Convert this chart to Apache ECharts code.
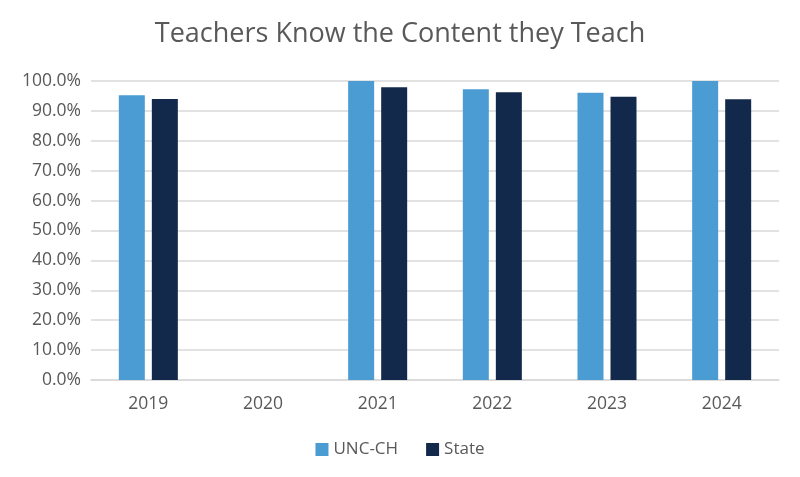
<!DOCTYPE html>
<html>
<head>
    <meta charset="UTF-8">
    <title>Teachers Know the Content they Teach</title>
    <script src="https://cdn.jsdelivr.net/npm/echarts@6.0.0/dist/echarts.min.js"></script>
    <style>
        html, body { margin: 0; padding: 0; background: #fff; }
        #chart { width: 800px; height: 477px; }
    </style>
</head>
<body>
<div id="chart"></div>
<script>
    // data
    const years = ['2019', '2020', '2021', '2022', '2023', '2024'];
    const uncValues = [95.2, null, 100.0, 97.2, 96.1, 100.0];
    const stateValues = [94.0, null, 97.9, 96.2, 94.7, 93.9];

    const chart = echarts.init(document.getElementById('chart'));
    const textColor = '#595959';
    const font = '"Open Sans", "Liberation Sans", sans-serif';

    chart.setOption({
        animation: false,
        title: {
            text: 'Teachers Know the Content they Teach',
            left: 'center',
            top: 16,
            textStyle: { color: textColor, fontSize: 27, fontWeight: 'normal', fontFamily: font }
        },
        legend: {
            bottom: 14,
            left: 'center',
            itemWidth: 13,
            itemHeight: 13,
            itemGap: 28,
            icon: 'rect',
            textStyle: { color: textColor, fontSize: 17, fontFamily: font },
            data: ['UNC-CH', 'State']
        },
        grid: { left: 91, right: 21, top: 81, bottom: 97 },
        xAxis: {
            type: 'category',
            data: years,
            axisTick: { show: false },
            axisLine: { lineStyle: { color: '#d9d9d9', width: 1.5 } },
            axisLabel: { color: textColor, fontSize: 17.5, fontFamily: font, margin: 15 }
        },
        yAxis: {
            type: 'value',
            min: 0,
            max: 100,
            interval: 10,
            axisLabel: {
                color: textColor, fontSize: 17.5, fontFamily: font, margin: 10,
                formatter: v => v.toFixed(1) + '%'
            },
            splitLine: { lineStyle: { color: '#d9d9d9', width: 1.5 } }
        },
        series: [
            {
                name: 'UNC-CH',
                type: 'bar',
                data: uncValues,
                barWidth: 26,
                barGap: '27%',
                itemStyle: { color: '#4B9CD3' }
            },
            {
                name: 'State',
                type: 'bar',
                data: stateValues,
                barWidth: 26,
                itemStyle: { color: '#13294B' }
            }
        ]
    });
</script>
</body>
</html>
